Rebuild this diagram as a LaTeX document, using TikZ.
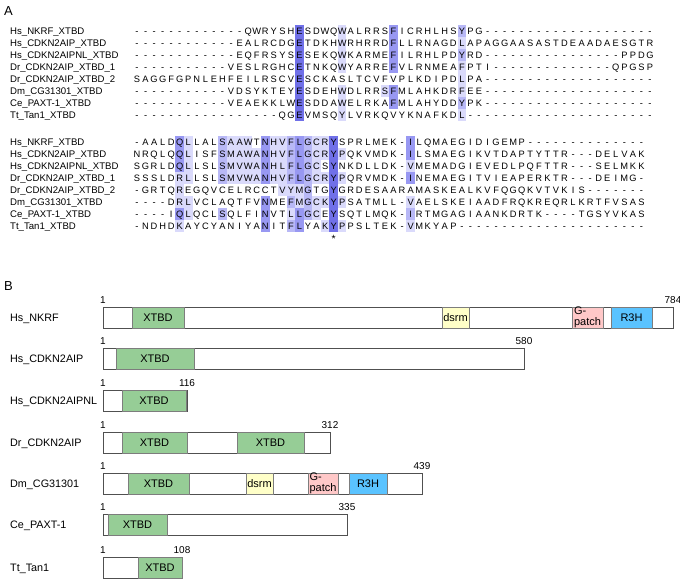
\documentclass[tikz,border=0pt]{standalone}
\usepackage{fontspec}
\setmainfont{Liberation Sans}
\definecolor{lvA}{RGB}{218,218,251}
\definecolor{lvB}{RGB}{184,184,246}
\definecolor{lvC}{RGB}{152,152,242}
\definecolor{lvD}{RGB}{112,112,232}
\definecolor{xtbd}{RGB}{150,205,150}
\definecolor{dsrm}{RGB}{255,255,200}
\definecolor{gpatch}{RGB}{255,200,200}
\definecolor{rthh}{RGB}{90,195,255}
\definecolor{bargray}{RGB}{80,80,80}
\definecolor{domgray}{RGB}{125,125,125}
\tikzset{
  res/.style={anchor=base, inner sep=0, font=\fontsize{9.3}{10}\selectfont},
  seqlab/.style={anchor=base west, inner sep=0, font=\fontsize{9.6}{11}\selectfont},
  panel/.style={anchor=base west, inner sep=0, font=\fontsize{13}{14}\selectfont},
  lv1/.style={fill=lvA}, lv2/.style={fill=lvB}, lv3/.style={fill=lvC}, lv4/.style={fill=lvD},
  pbar/.style={draw=bargray, line width=1pt, fill=white, minimum height=21pt, inner sep=0, outer sep=0, anchor=north west},
  dom/.style={draw=domgray, line width=0.6pt, minimum height=21pt, inner sep=0, outer sep=0, anchor=north west, align=left, font=\fontsize{11}{10.5}\selectfont},
  plab/.style={anchor=base west, inner sep=0, font=\fontsize{10.8}{12}\selectfont},
  pnum/.style={anchor=base, inner sep=0, font=\fontsize{10}{12}\selectfont}
}
\newcount\rescol
\def\rowy{0}
\def\rowtag{r}
\newcommand\putres[1]{\global\advance\rescol by 1\relax
  \edef\resname{\rowtag c\the\rescol}%
  \node[res] (\resname) at ({137+(\the\rescol-1)*8.55},{\rowy+3.4}) {#1};}
\def\resloop#1{\ifx#1\relax\let\resnext\relax\else\def\resnext{\putres{#1}\resloop}\fi\resnext}
\newcommand\seqline[4]{\def\rowy{#2}\def\rowtag{#1}\global\rescol=0\relax
  \node[seqlab] (#1lab) at (10,{#2+3.4}) {#3};
  \resloop#4\relax}
% shade: base y, rows, column, level
\newcommand\shd[4]{\foreach \rr in {#2}{\fill[lv#4] ({137+(#3-1)*8.55-4.275},{#1+(\rr-1)*12-6}) rectangle ++(8.55,12);}}
\begin{document}
\begin{tikzpicture}[x=1pt,y=-1pt]
\useasboundingbox (0,0) rectangle (680,579);
\node[panel] (pa) at (4,15) {A};
% ---------- shading block 1 ----------
\shd{31}{1,...,8}{20}{4}
\shd{31}{1,2,3,4,6,7,8}{25}{1}
\shd{31}{1,2,3,4,6,7}{31}{3}
\shd{31}{6}{30}{1}
\shd{31}{1,3,7}{39}{2}
\shd{31}{2,4,5,6,8}{39}{1}
% ---------- shading block 2 ----------
\shd{142}{1,2,3,7}{6}{3}
\shd{142}{4,5,6,8}{6}{1}
\shd{142}{1,2,3,4,6,7}{7}{1}
\shd{142}{1,2,3,4,7}{11}{2}
\shd{142}{1,2,3,4}{12}{1}
\shd{142}{1,2,3,4}{13}{1}
\shd{142}{1,2,3,4}{14}{1}
\shd{142}{2,3,4}{15}{1}
\shd{142}{1,2,3,4,6,7,8}{16}{3}
\shd{142}{1,2,3,4}{17}{1}
\shd{142}{1,2,3,4,5}{18}{1}
\shd{142}{1,2,3,4,6,8}{19}{2}
\shd{142}{5,7}{19}{1}
\shd{142}{1,2,3,4,7,8}{20}{3}
\shd{142}{5,6}{20}{1}
\shd{142}{1,...,7}{21}{2}
\shd{142}{1,2,3,4,6,7}{22}{1}
\shd{142}{1,2,4,6,8}{23}{1}
\shd{142}{1,...,8}{24}{4}
\shd{142}{2,4,6,8}{25}{1}
\shd{142}{1,2,4}{33}{3}
\shd{142}{7}{33}{2}
\shd{142}{3,6,8}{33}{1}
% ---------- block 1 ----------
\seqline{a1}{31}{Hs\_NKRF\_XTBD}{-------------QWRYSHESDWQWALRRSFICRHLHSYPG--------------------}
\seqline{a2}{43}{Hs\_CDKN2AIP\_XTBD}{------------EALRCDGETDKHWRHRRDFLLRNAGDLAPAGGAASASTDEAADAESGTR}
\seqline{a3}{55}{Hs\_CDKN2AIPNL\_XTBD}{------------EQFRSYSESEKQWKARMEFILRHLPDYRD----------------PPDG}
\seqline{a4}{67}{Dr\_CDKN2AIP\_XTBD\_1}{-----------VESLRGHCETNKQWYARREFVLRNMEAFPTI--------------QPGSP}
\seqline{a5}{79}{Dr\_CDKN2AIP\_XTBD\_2}{SAGGFGPNLEHFEILRSCVESCKASLTCVFVPLKDIPDLPA--------------------}
\seqline{a6}{91}{Dm\_CG31301\_XTBD}{-----------VDSYKTEYESDEHWDLRRSFMLAHKDRFEE--------------------}
\seqline{a7}{103}{Ce\_PAXT-1\_XTBD}{-----------VEAEKKLWESDDAWELRKAFMLAHYDDYPK--------------------}
\seqline{a8}{115}{Tt\_Tan1\_XTBD}{-----------------QGEVMSQYLVRKQVYKNAFKDL----------------------}
% ---------- block 2 ----------
\seqline{b1}{142}{Hs\_NKRF\_XTBD}{-AALDQLLALSAAWTNHVFLGCRYSPRLMEK-ILQMAEGIDIGEMP--------------}
\seqline{b2}{154}{Hs\_CDKN2AIP\_XTBD}{NRQLQQLISFSMAWANHVFLGCRYPQKVMDK-ILSMAEGIKVTDAPTYTTR---DELVAK}
\seqline{b3}{166}{Hs\_CDKN2AIPNL\_XTBD}{SGRLDQLLSLSMVWANHLFLGCSYNKDLLDK-VMEMADGIEVEDLPQFTTR---SELMKK}
\seqline{b4}{178}{Dr\_CDKN2AIP\_XTBD\_1}{SSSLDRLLSLSMVWANHVFLGCRYPQRVMDK-INEMAEGITVIEAPERKTR---DEIMG-}
\seqline{b5}{190}{Dr\_CDKN2AIP\_XTBD\_2}{-GRTQREGQVCELRCCTVYMGTGYGRDESAARAMASKEALKVFQGQKVTVKIS-------}
\seqline{b6}{202}{Dm\_CG31301\_XTBD}{----DRLVCLAQTFVNMEFMGCKYPSATMLL-VAELSKEIAADFRQKREQRLKRTFVSAS}
\seqline{b7}{214}{Ce\_PAXT-1\_XTBD}{----IQLQCLSQLFINVTLLGCEYSQTLMQK-IRTMGAGIAANKDRTK----TGSYVKAS}
\seqline{b8}{226}{Tt\_Tan1\_XTBD}{-NDHDKAYCYANIYANITFLYAKYPPSLTEK-VMKYAP----------------------}
\node[res, font=\fontsize{10.5}{10}\selectfont] (star) at ({137+23*8.55},242) {*};
% ---------- panel B ----------
\node[panel] (pb) at (4,290) {B};
% Hs_NKRF
\node[plab] (l1) at (10,321.5) {Hs\_NKRF};
\node[pbar, minimum width=570pt] (p1) at (103,307) {};
\node[dom, fill=xtbd, minimum width=52pt] (p1x) at (132,307) {XTBD};
\node[dom, fill=dsrm, minimum width=27pt] (p1d) at (442,307) {dsrm};
\node[dom, fill=gpatch, minimum width=31pt] (p1g) at (572,307) {G-\\patch};
\node[dom, fill=rthh, minimum width=41pt] (p1r) at (611,307) {R3H};
\node[pnum] (p1s) at (p1.north west) [yshift=4pt] {1};
\node[pnum] (p1e) at (p1.north east) [yshift=4pt] {784};
% Hs_CDKN2AIP
\node[plab] (l2) at (10,362.5) {Hs\_CDKN2AIP};
\node[pbar, minimum width=421pt] (p2) at (103,348) {};
\node[dom, fill=xtbd, minimum width=78pt] (p2x) at (116,348) {XTBD};
\node[pnum] (p2s) at (p2.north west) [yshift=4pt] {1};
\node[pnum] (p2e) at (p2.north east) [yshift=4pt] {580};
% Hs_CDKN2AIPNL
\node[plab] (l3) at (10,404.5) {Hs\_CDKN2AIPNL};
\node[pbar, minimum width=84pt] (p3) at (103,390) {};
\node[dom, fill=xtbd, minimum width=64pt] (p3x) at (122,390) {XTBD};
\node[pnum] (p3s) at (p3.north west) [yshift=4pt] {1};
\node[pnum] (p3e) at (p3.north east) [yshift=4pt] {116};
% Dr_CDKN2AIP
\node[plab] (l4) at (10,446.5) {Dr\_CDKN2AIP};
\node[pbar, minimum width=227pt] (p4) at (103,432) {};
\node[dom, fill=xtbd, minimum width=65pt] (p4x) at (122,432) {XTBD};
\node[dom, fill=xtbd, minimum width=67pt] (p4y) at (237,432) {XTBD};
\node[pnum] (p4s) at (p4.north west) [yshift=4pt] {1};
\node[pnum] (p4e) at (p4.north east) [yshift=4pt] {312};
% Dm_CG31301
\node[plab] (l5) at (10,487.5) {Dm\_CG31301};
\node[pbar, minimum width=319pt] (p5) at (103,473) {};
\node[dom, fill=xtbd, minimum width=61pt] (p5x) at (128,473) {XTBD};
\node[dom, fill=dsrm, minimum width=27pt] (p5d) at (246,473) {dsrm};
\node[dom, fill=gpatch, minimum width=30pt] (p5g) at (308,473) {G-\\patch};
\node[dom, fill=rthh, minimum width=38pt] (p5r) at (349,473) {R3H};
\node[pnum] (p5s) at (p5.north west) [yshift=4pt] {1};
\node[pnum] (p5e) at (p5.north east) [yshift=4pt] {439};
% Ce_PAXT-1
\node[plab] (l6) at (10,528.5) {Ce\_PAXT-1};
\node[pbar, minimum width=244pt] (p6) at (103,514) {};
\node[dom, fill=xtbd, minimum width=59pt] (p6x) at (108,514) {XTBD};
\node[pnum] (p6s) at (p6.north west) [yshift=4pt] {1};
\node[pnum] (p6e) at (p6.north east) [yshift=4pt] {335};
% Tt_Tan1
\node[plab] (l7) at (10,571.5) {Tt\_Tan1};
\node[pbar, minimum width=79pt] (p7) at (103,557) {};
\node[dom, fill=xtbd, minimum width=44pt] (p7x) at (138,557) {XTBD};
\node[pnum] (p7s) at (p7.north west) [yshift=4pt] {1};
\node[pnum] (p7e) at (p7.north east) [yshift=4pt] {108};
\end{tikzpicture}
\end{document}
